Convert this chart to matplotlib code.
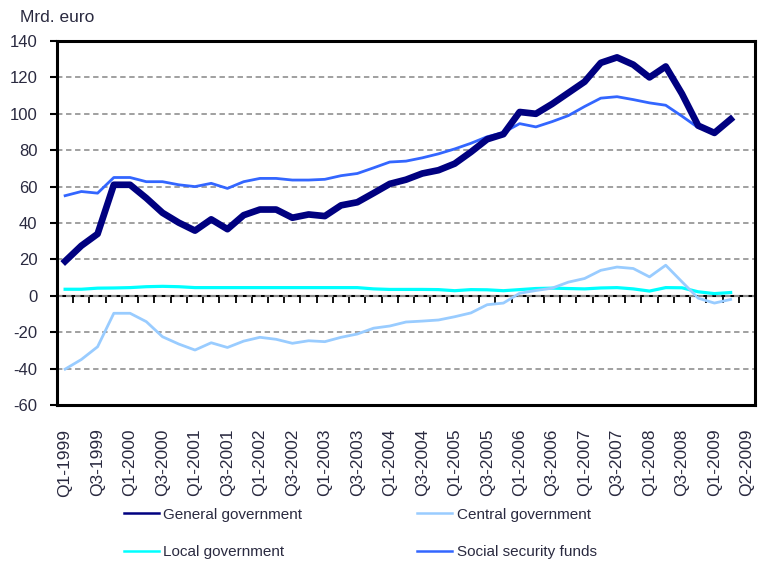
import matplotlib.pyplot as plt
import numpy as np

plt.rcParams['font.family'] = ['Liberation Sans', 'DejaVu Sans']
plt.rcParams['axes.unicode_minus'] = False

# quarterly data Q1-1999 .. Q2-2009 (Mrd. euro)
general_gov = [19, 27.5, 34, 61, 61, 53.7, 45.6, 40.2, 35.8, 42, 36.6, 44.3,
               47.4, 47.4, 42.9, 44.7, 43.8, 49.7, 51.4, 56.4, 61.5, 63.8,
               67.2, 69, 72.6, 79, 86, 88.8, 101, 100, 105.4, 111.5,
               117.6, 128, 131, 127, 120, 126, 111, 93.5, 89.5, 97]
central_gov = [-40.3, -35, -28, -9.6, -9.6, -14.2, -22.5, -26.5, -29.8, -25.8,
               -28.4, -24.9, -22.8, -23.9, -26.1, -24.7, -25.2, -22.8, -21,
               -17.8, -16.6, -14.4, -13.9, -13.3, -11.5, -9.4, -4.9, -4,
               1.4, 2.9, 4.2, 7.5, 9.5, 14, 15.8, 15, 10.4, 16.8, 7.7,
               -1.3, -4, -2]
local_gov = [3.6, 3.6, 4.2, 4.3, 4.5, 5, 5.2, 5, 4.5, 4.5, 4.5, 4.5, 4.5, 4.5,
             4.5, 4.5, 4.5, 4.5, 4.5, 3.8, 3.5, 3.5, 3.5, 3.4, 2.8, 3.4, 3.3,
             2.8, 3.4, 4, 4.2, 4, 3.8, 4.3, 4.5, 3.8, 2.6, 4.5, 4.4, 2.2,
             1.2, 1.8]
social_sec = [55, 57.3, 56.4, 65, 65, 62.7, 62.7, 61, 60, 61.8, 59, 62.7,
              64.5, 64.5, 63.6, 63.6, 64, 66, 67.2, 70.3, 73.5, 74, 75.8, 78,
              80.7, 83.8, 87.4, 89.7, 94.6, 92.8, 95.7, 99, 104, 108.6, 109.4,
              107.8, 106, 104.7, 98.7, 92.4, 90.6, 97]

tick_labels = ['Q1-1999', 'Q3-1999', 'Q1-2000', 'Q3-2000', 'Q1-2001', 'Q3-2001',
               'Q1-2002', 'Q3-2002', 'Q1-2003', 'Q3-2003', 'Q1-2004', 'Q3-2004',
               'Q1-2005', 'Q3-2005', 'Q1-2006', 'Q3-2006', 'Q1-2007', 'Q3-2007',
               'Q1-2008', 'Q3-2008', 'Q1-2009', 'Q2-2009']

x = np.arange(len(general_gov))
txt = '#2a2a40'

fig = plt.figure(figsize=(7.58, 5.67), dpi=100)
ax = fig.add_axes([57/758, 1-405/567, 698/758, 364/567])

ax.plot(x, local_gov, color='#00ffff', lw=2.3, label='Local government', zorder=3)
ax.plot(x, central_gov, color='#99ccff', lw=2.0, label='Central government', zorder=3)
ax.plot(x, social_sec, color='#3366ff', lw=2.0, label='Social security funds', zorder=4)
ax.plot(x, general_gov, color='#000080', lw=4.8, label='General government', zorder=5)

ax.set_xlim(-0.5, 42.5)
ax.set_ylim(-60, 140)
ax.set_yticks(range(-60, 141, 20))
ax.yaxis.grid(True, linestyle=(0, (3, 2)), color='#999999', lw=1.3)
ax.set_axisbelow(True)
ax.tick_params(axis='y', direction='out', length=5, width=1.5, pad=9,
               labelsize=12, labelcolor=txt)

ax.set_xticks(np.arange(0, 43, 2))
ax.set_xticklabels(tick_labels, rotation=90, fontsize=12.5, color=txt)
ax.tick_params(axis='x', length=0, pad=17)

for s in ax.spines.values():
    s.set_linewidth(2.2)

# category axis at zero with tick marks between categories
zero = ax.secondary_xaxis(0.3)
zero.set_xticks(np.arange(-0.5, 43, 1))
zero.tick_params(axis='x', direction='out', length=5, width=1.3, labelbottom=False)
zero.spines['bottom'].set_linewidth(1.5)

fig.text(20/758, 1-18/567, 'Mrd. euro', fontsize=12.5, color=txt, va='center')

handles, labels = ax.get_legend_handles_labels()
order = [3, 0, 1, 2]  # column-first: GG, LG | CG, SSF
leg = fig.legend([handles[i] for i in order], [labels[i] for i in order],
                 loc='upper left', bbox_to_anchor=(116/758, 1-500/567), ncol=2,
                 frameon=False, fontsize=11, handlelength=2.3, borderpad=0,
                 columnspacing=7.5, labelspacing=1.55, handletextpad=0.3)
for t in leg.get_texts():
    t.set_color(txt)
for h in leg.get_lines():
    h.set_linewidth(1.8)

fig.savefig('out.png', dpi=100)
